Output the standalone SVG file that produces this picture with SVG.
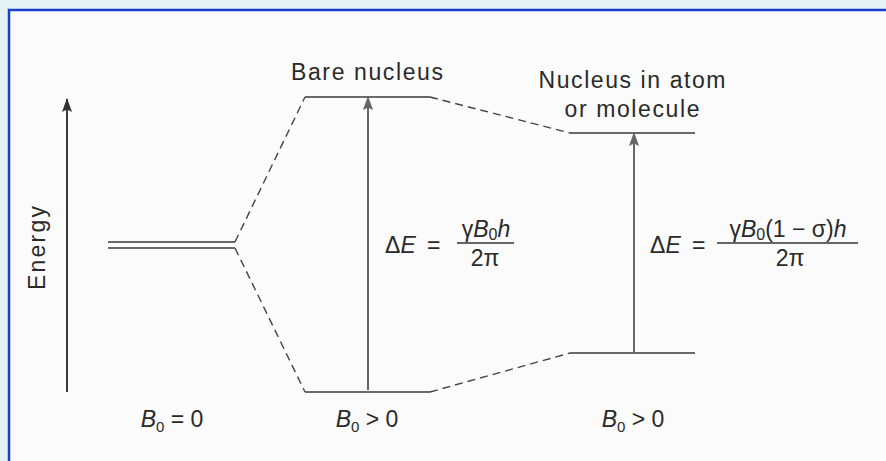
<svg xmlns="http://www.w3.org/2000/svg" width="886" height="461" viewBox="0 0 886 461">
<defs>
<style>
.lvl{stroke:#3a3a3a;stroke-width:1.6;fill:none}
.dash{stroke:#444;stroke-width:1.4;fill:none;stroke-dasharray:8 5}
.arr{stroke:#666;stroke-width:2;fill:none}
.axis{stroke:#3a3a3a;stroke-width:2;fill:none}
.t{font-family:"Liberation Sans",Arial,sans-serif;font-size:23px;fill:#2a2a2a}
.m{font-family:"Liberation Sans",Arial,sans-serif;font-size:23px;fill:#2a2a2a}
.i{font-style:italic}
</style>
<marker id="ahGray" markerUnits="userSpaceOnUse" markerWidth="14" markerHeight="10" refX="13" refY="5" orient="auto" viewBox="0 0 14 10">
<path d="M14 5 L0 0 L2.5 5 L0 10 Z" fill="#666"/>
</marker>
<marker id="ahDark" markerUnits="userSpaceOnUse" markerWidth="14" markerHeight="10" refX="13" refY="5" orient="auto" viewBox="0 0 14 10">
<path d="M14 5 L0 0 L2.5 5 L0 10 Z" fill="#333"/>
</marker>
</defs>
<rect x="0" y="0" width="886" height="461" fill="#fbfbfb"/>
<rect x="0" y="0" width="886" height="9" fill="#e4f2f4"/>
<rect x="0" y="0" width="8" height="461" fill="#e4f2f4"/>
<path d="M9 461 V10 H886" stroke="#1740d0" stroke-width="2.5" fill="none"/>

<g id="axis">
<line class="axis" x1="67" y1="392" x2="67" y2="99" marker-end="url(#ahDark)"/>
<text class="t" transform="translate(45 248) rotate(-90)" text-anchor="middle" font-size="24" textLength="84" lengthAdjust="spacing">Energy</text>
</g>

<g id="level-zero">
<line class="lvl" x1="108" y1="242" x2="235" y2="242"/>
<line class="lvl" x1="108" y1="248" x2="235" y2="248"/>
<text class="m" x="172" y="427" text-anchor="middle"><tspan class="i">B</tspan><tspan font-size="15" dy="5">0</tspan><tspan dy="-5"> = 0</tspan></text>
</g>

<g id="bare-nucleus">
<text class="t" x="367" y="80" text-anchor="middle" textLength="152" lengthAdjust="spacing">Bare nucleus</text>
<line class="lvl" x1="305" y1="97" x2="430" y2="97"/>
<line class="lvl" x1="305" y1="392" x2="430" y2="392"/>
<line class="arr" x1="368" y1="390" x2="368" y2="97" marker-end="url(#ahGray)"/>
<text class="m" x="385" y="253">Δ<tspan class="i">E</tspan></text>
<text class="m" x="427" y="253">=</text>
<text class="m" x="486" y="237" text-anchor="middle">γ<tspan class="i">B</tspan><tspan font-size="16" dy="3">0</tspan><tspan class="i" dy="-3">h</tspan></text>
<line x1="457" y1="243" x2="514" y2="243" stroke="#333" stroke-width="1.5"/>
<text class="m" x="485" y="266" text-anchor="middle">2π</text>
<text class="m" x="367" y="427" text-anchor="middle"><tspan class="i">B</tspan><tspan font-size="15" dy="5">0</tspan><tspan dy="-5"> &gt; 0</tspan></text>
</g>

<g id="nucleus-in-atom">
<text class="t" x="632" y="88" text-anchor="middle" textLength="187" lengthAdjust="spacing">Nucleus in atom</text>
<text class="t" x="632" y="117" text-anchor="middle" textLength="135" lengthAdjust="spacing">or molecule</text>
<line class="lvl" x1="570" y1="133" x2="695" y2="133"/>
<line class="lvl" x1="570" y1="353" x2="695" y2="353"/>
<line class="arr" x1="634" y1="352" x2="634" y2="133" marker-end="url(#ahGray)"/>
<text class="m" x="650" y="253">Δ<tspan class="i">E</tspan></text>
<text class="m" x="692" y="253">=</text>
<text class="m" x="788" y="237" text-anchor="middle">γ<tspan class="i">B</tspan><tspan font-size="16" dy="3">0</tspan><tspan dy="-3">(1 − σ)</tspan><tspan class="i">h</tspan></text>
<line x1="717" y1="243" x2="858" y2="243" stroke="#333" stroke-width="1.5"/>
<text class="m" x="790" y="266" text-anchor="middle">2π</text>
<text class="m" x="633" y="427" text-anchor="middle"><tspan class="i">B</tspan><tspan font-size="15" dy="5">0</tspan><tspan dy="-5"> &gt; 0</tspan></text>
</g>

<g id="connectors">
<line class="dash" x1="235" y1="242" x2="305" y2="97"/>
<line class="dash" x1="235" y1="248" x2="305" y2="392"/>
<line class="dash" x1="430" y1="97" x2="570" y2="133"/>
<line class="dash" x1="430" y1="392" x2="570" y2="353"/>
</g>
</svg>
